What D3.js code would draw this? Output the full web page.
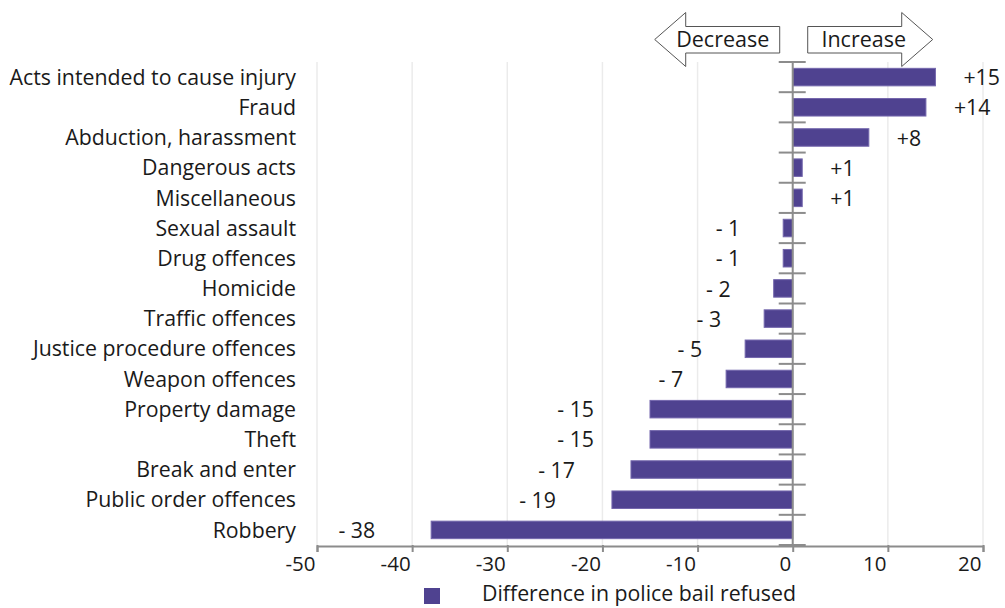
<!DOCTYPE html>
<html>
<head>
<meta charset="utf-8">
<script src="https://d3js.org/d3.v7.min.js"></script>
<style>
  body { margin: 0; background: #ffffff; }
  text { font-family: "Open Sans", sans-serif; fill: #1a1a1a; }
</style>
</head>
<body>
<script>
'use strict';

// offence categories, top to bottom
const categories = [
  "Acts intended to cause injury", "Fraud", "Abduction, harassment",
  "Dangerous acts", "Miscellaneous", "Sexual assault", "Drug offences",
  "Homicide", "Traffic offences", "Justice procedure offences",
  "Weapon offences", "Property damage", "Theft", "Break and enter",
  "Public order offences", "Robbery"
];
// difference in police bail refused
const differences = [15, 14, 8, 1, 1, -1, -1, -2, -3, -5, -7, -15, -15, -17, -19, -38];
const xTicks = [-50, -40, -30, -20, -10, 0, 10, 20];
const seriesName = "Difference in police bail refused";
const arrowLabels = ["Decrease", "Increase"];

(function() {

  let svgContainer = "";
  const barColor = "#4f4290";
  const axisColor = "#8c8c8c";
  const fontSize = '21.3px';

  window.onload = function() {
    svgContainer = d3.select('body')
      .append('svg')
      .attr('width', 1005)
      .attr('height', 608);
    makeBarChart();
  }

  function makeBarChart() {
    let map = drawAxes();
    plotData(map);
    drawArrows(map);
    drawLegend();
  }

  // scales, gridlines, bottom axis and category labels
  function drawAxes() {
    let xScale = d3.scaleLinear()
      .domain([-50, 20])
      .range([317, 983]);

    let yScale = d3.scaleBand()
      .domain(categories)
      .range([62, 545])
      .paddingInner(0.42)
      .paddingOuter(0.21);

    // light gridlines
    svgContainer.append('g')
      .selectAll('line')
      .data(xTicks)
      .enter()
      .append('line')
      .attr('x1', d => xScale(d))
      .attr('x2', d => xScale(d))
      .attr('y1', 62)
      .attr('y2', 545)
      .style('stroke', '#ebebeb')
      .style('stroke-width', 1.5);

    // bottom axis (plain hyphen for negatives, like the original)
    let xAxis = d3.axisBottom(xScale)
      .tickValues(xTicks)
      .tickSizeInner(6)
      .tickSizeOuter(6)
      .tickFormat(d => String(d));
    let g = svgContainer.append('g')
      .attr('transform', 'translate(0, 546)')
      .call(xAxis);
    g.select('.domain').style('stroke', axisColor).style('stroke-width', 2);
    g.selectAll('.tick line').style('stroke', axisColor).style('stroke-width', 2)
      .attr('y1', -1);
    g.selectAll('.tick text')
      .attr('text-anchor', 'end')
      .attr('x', -2)
      .attr('y', 10)
      .attr('dy', '0.71em')
      .style('font-family', '"Open Sans", sans-serif')
      .style('font-size', '20.5px')
      .style('fill', '#1a1a1a');

    // category labels
    svgContainer.append('g')
      .selectAll('text')
      .data(categories)
      .enter()
      .append('text')
      .attr('x', 296)
      .attr('y', d => yScale(d) + yScale.bandwidth() / 2)
      .attr('dy', '0.36em')
      .attr('text-anchor', 'end')
      .style('font-size', fontSize)
      .text(d => d);

    return { xScale: xScale, yScale: yScale };
  }

  // bars, zero line and value labels
  function plotData(map) {
    let xScale = map.xScale;
    let yScale = map.yScale;
    let x0 = xScale(0);
    let step = yScale.step();

    let rows = categories.map((c, i) => ({ name: c, value: differences[i] }));

    svgContainer.selectAll('.bar')
      .data(rows)
      .enter()
      .append('rect')
      .attr('class', 'bar')
      .attr('x', d => Math.min(xScale(d.value), x0))
      .attr('y', d => yScale(d.name))
      .attr('width', d => Math.abs(xScale(d.value) - x0))
      .attr('height', yScale.bandwidth())
      .attr('fill', barColor)
      .style('stroke', '#7467ad')
      .style('stroke-width', 1);

    // zero line with band separator ticks
    svgContainer.append('line')
      .attr('x1', x0).attr('x2', x0)
      .attr('y1', 62).attr('y2', 545)
      .style('stroke', axisColor)
      .style('stroke-width', 2);

    let bounds = categories.map(c => yScale(c) - yScale.paddingInner() * step / 2);
    bounds.push(545);
    svgContainer.append('g')
      .selectAll('line')
      .data(bounds)
      .enter()
      .append('line')
      .attr('x1', x0 - 14).attr('x2', x0 + 13)
      .attr('y1', d => d).attr('y2', d => d)
      .style('stroke', axisColor)
      .style('stroke-width', 2);

    // value labels: "+n" after positive bars, "- n" before negative bars
    svgContainer.selectAll('.val')
      .data(rows)
      .enter()
      .append('text')
      .attr('class', 'val')
      .attr('x', d => d.value > 0 ? xScale(d.value) + 28
        : xScale(d.value) - (Math.abs(d.value) >= 10 ? 56 : 43))
      .attr('y', d => yScale(d.name) + yScale.bandwidth() / 2)
      .attr('dy', '0.38em')
      .attr('text-anchor', d => d.value > 0 ? 'start' : 'end')
      .style('font-size', fontSize)
      .text(d => d.value > 0 ? '+' + d.value : '- ' + Math.abs(d.value));
  }

  // Decrease / Increase block arrows above the zero line
  function drawArrows(map) {
    let x0 = map.xScale(0);
    let cy = 39.5;

    let left = d3.path();
    left.moveTo(x0 - 13, cy - 13);
    left.lineTo(x0 - 107, cy - 13);
    left.lineTo(x0 - 107, cy - 27);
    left.lineTo(x0 - 138, cy);
    left.lineTo(x0 - 107, cy + 27);
    left.lineTo(x0 - 107, cy + 13.5);
    left.lineTo(x0 - 13, cy + 13.5);
    left.closePath();

    let right = d3.path();
    right.moveTo(x0 + 15, cy - 13);
    right.lineTo(x0 + 109, cy - 13);
    right.lineTo(x0 + 109, cy - 27);
    right.lineTo(x0 + 140, cy);
    right.lineTo(x0 + 109, cy + 27);
    right.lineTo(x0 + 109, cy + 13.5);
    right.lineTo(x0 + 15, cy + 13.5);
    right.closePath();

    svgContainer.append('path')
      .attr('d', left.toString())
      .attr('fill', '#ffffff')
      .style('stroke', '#555555')
      .style('stroke-width', 1);
    svgContainer.append('path')
      .attr('d', right.toString())
      .attr('fill', '#ffffff')
      .style('stroke', '#555555')
      .style('stroke-width', 1);

    svgContainer.append('text')
      .attr('x', x0 - 70)
      .attr('y', cy)
      .attr('dy', '0.36em')
      .attr('text-anchor', 'middle')
      .style('font-size', '21.5px')
      .text(arrowLabels[0]);
    svgContainer.append('text')
      .attr('x', x0 + 71)
      .attr('y', cy)
      .attr('dy', '0.36em')
      .attr('text-anchor', 'middle')
      .style('font-size', '21.5px')
      .text(arrowLabels[1]);
  }

  function drawLegend() {
    svgContainer.append('rect')
      .attr('x', 424)
      .attr('y', 588)
      .attr('width', 16)
      .attr('height', 16)
      .attr('fill', barColor);

    svgContainer.append('text')
      .attr('x', 482)
      .attr('y', 601)
      .style('font-size', fontSize)
      .text(seriesName);
  }

})();
</script>
</body>
</html>
